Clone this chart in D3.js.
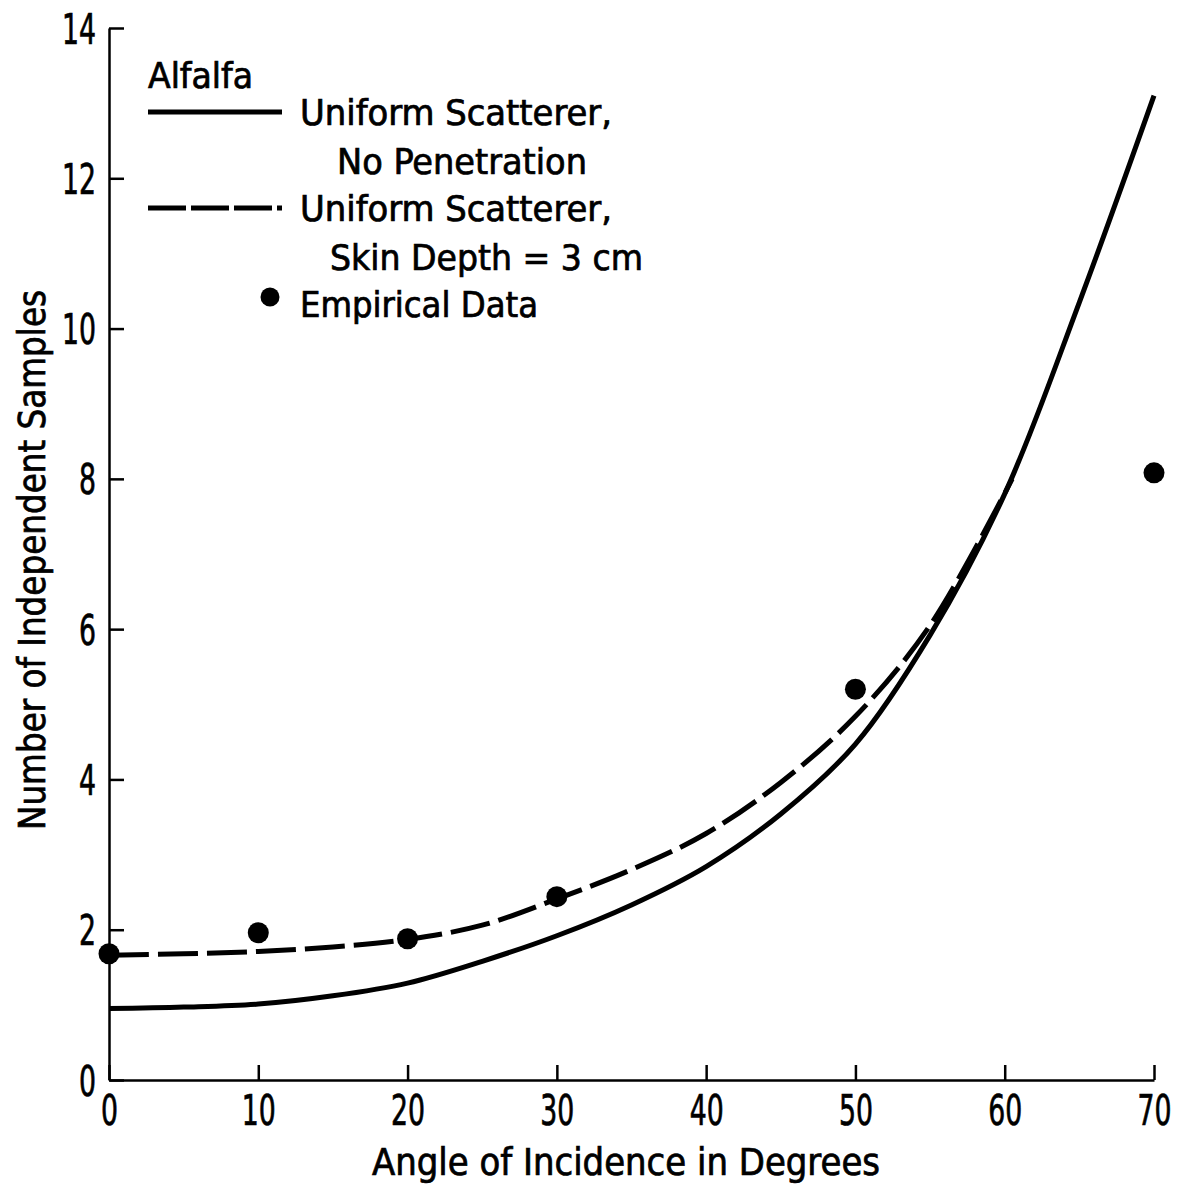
<!DOCTYPE html>
<html>
<head>
<meta charset="utf-8">
<script src="https://cdn.jsdelivr.net/npm/d3@7"></script>
<style>
  body { margin: 0; background: #fff; }
  text { font-family: "DejaVu Sans Condensed", "Liberation Sans Narrow", "DejaVu Sans", sans-serif; fill: #000; stroke: #000; stroke-width: 0.7px; }
</style>
</head>
<body>
<svg id="chart" width="1179" height="1190"></svg>
<script>
const angles = [0, 5, 10, 15, 20, 25, 30, 35, 40, 45, 50, 55, 60, 65, 70];
// uniform scatterer, no penetration
const solidValues = [0.95, 0.97, 1.01, 1.12, 1.29, 1.58, 1.92, 2.33, 2.84, 3.54, 4.47, 5.92, 7.8, 10.35, 13.1];
// uniform scatterer, skin depth = 3 cm (stops near 60 deg)
const dashedAngles = [0, 5, 10, 15, 20, 25, 30, 35, 40, 45, 50, 55, 60.5];
const dashedValues = [1.66, 1.68, 1.71, 1.77, 1.87, 2.06, 2.41, 2.8, 3.28, 3.96, 4.84, 6.05, 8.0];
// empirical data
const empAngles = [0, 10, 20, 30, 50, 70];
const empValues = [1.68, 1.96, 1.88, 2.44, 5.2, 8.08];

const xTicks = [0, 10, 20, 30, 40, 50, 60, 70];
const yTicks = [0, 2, 4, 6, 8, 10, 12, 14];

const svg = d3.select("#chart");

const x = d3.scaleLinear().domain([0, 70]).range([109, 1154]);
const y = d3.scaleLinear().domain([0, 14]).range([1080, 28]);

// axes: ticks point inward
const yAxis = svg.append("g")
  .attr("transform", "translate(" + x(0) + ",0)")
  .call(d3.axisLeft(y).tickValues(yTicks).tickSizeInner(-15).tickSizeOuter(0).tickPadding(13));
const xAxis = svg.append("g")
  .attr("transform", "translate(0," + y(0) + ")")
  .call(d3.axisBottom(x).tickValues(xTicks).tickSizeInner(-15).tickSizeOuter(0).tickPadding(16));

[yAxis, xAxis].forEach(function(ax) {
  ax.select(".domain").attr("stroke", "#000").attr("stroke-width", 2.5);
  ax.selectAll(".tick line").attr("stroke", "#000").attr("stroke-width", 2.5);
  ax.selectAll(".tick text")
    .attr("font-size", 42)
    .attr("font-family", null)
    .attr("lengthAdjust", "spacingAndGlyphs")
    .attr("textLength", d => String(d).length * 17);
});
yAxis.selectAll(".tick text").attr("dy", "0.36em");
xAxis.selectAll(".tick text").attr("dy", "0.70em");

// curves
const line = d3.line()
  .x(d => x(d[0]))
  .y(d => y(d[1]))
  .curve(d3.curveCatmullRom.alpha(0.5));

svg.append("path")
  .datum(angles.map((a, i) => [a, solidValues[i]]))
  .attr("d", line)
  .attr("fill", "none")
  .attr("stroke", "#000")
  .attr("stroke-width", 5);

svg.append("path")
  .datum(dashedAngles.map((a, i) => [a, dashedValues[i]]))
  .attr("d", line)
  .attr("fill", "none")
  .attr("stroke", "#000")
  .attr("stroke-width", 5)
  .attr("stroke-dasharray", "40,9");

svg.selectAll("circle.emp")
  .data(empAngles.map((a, i) => [a, empValues[i]]))
  .join("circle")
  .attr("class", "emp")
  .attr("cx", d => x(d[0]))
  .attr("cy", d => y(d[1]))
  .attr("r", 10.5)
  .attr("fill", "#000");

// axis titles
svg.append("text")
  .attr("x", 626).attr("y", 1175)
  .attr("text-anchor", "middle")
  .attr("font-size", 37)
  .attr("lengthAdjust", "spacingAndGlyphs")
  .attr("textLength", 508)
  .text("Angle of Incidence in Degrees");

svg.append("text")
  .attr("transform", "translate(45,560) rotate(-90)")
  .attr("text-anchor", "middle")
  .attr("font-size", 37)
  .attr("lengthAdjust", "spacingAndGlyphs")
  .attr("textLength", 540)
  .text("Number of Independent Samples");

// legend
const legendTexts = [
  { t: "Alfalfa", x: 148, y: 88, w: 105 },
  { t: "Uniform Scatterer,", x: 300, y: 125, w: 312 },
  { t: "No Penetration", x: 337, y: 174, w: 250 },
  { t: "Uniform Scatterer,", x: 300, y: 221, w: 312 },
  { t: "Skin Depth = 3 cm", x: 330, y: 270, w: 313 },
  { t: "Empirical Data", x: 300, y: 317, w: 238 }
];
svg.selectAll("text.leg")
  .data(legendTexts)
  .join("text")
  .attr("class", "leg")
  .attr("x", d => d.x)
  .attr("y", d => d.y)
  .attr("font-size", 35)
  .attr("lengthAdjust", "spacingAndGlyphs")
  .attr("textLength", d => d.w)
  .text(d => d.t);

svg.append("line")
  .attr("x1", 148).attr("x2", 282).attr("y1", 112).attr("y2", 112)
  .attr("stroke", "#000").attr("stroke-width", 5);
svg.append("line")
  .attr("x1", 148).attr("x2", 282).attr("y1", 208).attr("y2", 208)
  .attr("stroke", "#000").attr("stroke-width", 5)
  .attr("stroke-dasharray", "38,5");
svg.append("circle")
  .attr("cx", 270).attr("cy", 297).attr("r", 9.5)
  .attr("fill", "#000");
</script>
</body>
</html>
